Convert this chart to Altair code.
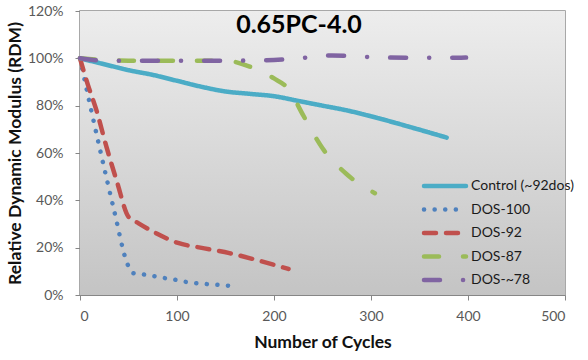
import altair as alt
import pandas as pd

CHART_TITLE = "0.65PC-4.0"
X_TITLE = "Number of Cycles"
Y_TITLE = "Relative Dynamic Modulus (RDM)"

SERIES = ["Control (~92dos)", "DOS-100", "DOS-92", "DOS-87", "DOS-~78"]
COLORS = ["#4BACC6", "#4F81BD", "#C0504D", "#9BBB59", "#8064A2"]
DASHES = [[1, 0], [0.1, 10.5], [12, 10], [15, 24], [16, 23, 0.1, 23]]

X_TICKS = [0, 100, 200, 300, 400, 500]
Y_TICKS = [0, 0.2, 0.4, 0.6, 0.8, 1.0, 1.2]

# cycles / relative dynamic modulus (%) for each mix
control_cycles = [0, 25, 50, 75, 100, 125, 150, 175, 200, 225, 250, 275, 300, 340, 378]
control_rdm = [100, 97.5, 95, 93, 90.5, 88, 86, 85, 84, 82, 80, 78, 75.5, 71, 66.5]

dos100_cycles = [0, 10, 22, 35, 49, 54, 65, 76, 88, 100, 111, 122, 134, 145, 157]
dos100_rdm = [100, 81, 59, 36, 13, 9.3, 8.7, 8.0, 7.1, 6.3, 5.4, 4.9, 4.5, 4.2, 3.8]

dos92_cycles = [0, 8, 17, 27, 38, 50, 60, 79, 101, 124, 154, 182, 215]
dos92_rdm = [100, 89, 78, 63, 48, 33, 30.4, 26, 22, 20, 17.7, 14.8, 11]

dos87_cycles = [0, 50, 100, 150, 175, 200, 215, 230, 250, 275, 304]
dos87_rdm = [100, 99, 99, 99, 96.5, 91.5, 87, 76, 62, 51, 43]

dos78_cycles = [0, 25, 50, 100, 150, 200, 230, 260, 300, 350, 398]
dos78_rdm = [100, 99, 99, 99, 99, 99.3, 100.2, 101.2, 100.5, 100.2, 100.3]

series_points = [
    (SERIES[0], control_cycles, control_rdm),
    (SERIES[1], dos100_cycles, dos100_rdm),
    (SERIES[2], dos92_cycles, dos92_rdm),
    (SERIES[3], dos87_cycles, dos87_rdm),
    (SERIES[4], dos78_cycles, dos78_rdm),
]

rows = []
for name, xs, ys in series_points:
    for i, (cx, cy) in enumerate(zip(xs, ys)):
        rows.append({"series": name, "cycles": cx, "rdm": cy / 100.0, "order": i})
df = pd.DataFrame(rows)

FONT = "Lato"
AXIS_GRAY = "#868686"
LABEL_GRAY = "#595959"
PLOT_W, PLOT_H = 485, 284
LINE_W = 4.5

color_scale = alt.Scale(domain=SERIES, range=COLORS)
dash_scale = alt.Scale(domain=SERIES, range=DASHES)

plot_fill = alt.LinearGradient(
    gradient="linear", x1=0, y1=0, x2=0, y2=1,
    stops=[alt.GradientStop(color="#ededed", offset=0),
           alt.GradientStop(color="#c4c4c4", offset=1)],
)

title_df = pd.DataFrame({"label": [CHART_TITLE]})
legend_df = pd.DataFrame({"series": SERIES})

# shaded plot-area background
backdrop = alt.Chart(title_df).mark_rect(color=plot_fill).encode(
    x=alt.value(0), x2=alt.value(PLOT_W), y=alt.value(0), y2=alt.value(PLOT_H)
)

lines = alt.Chart(df).mark_line(
    strokeWidth=LINE_W, strokeCap="round", strokeJoin="round", interpolate="monotone"
).encode(
    x=alt.X("cycles:Q", scale=alt.Scale(domain=[0, 500], nice=False),
            axis=alt.Axis(values=X_TICKS, title=X_TITLE, grid=False,
                          tickSize=5, labelPadding=9,
                          domainColor=AXIS_GRAY, tickColor=AXIS_GRAY,
                          labelFont=FONT, labelFontSize=14, labelColor=LABEL_GRAY,
                          titleFont=FONT, titleFontSize=17.5, titleFontWeight="bold",
                          titleColor="#111111", titleY=52, titleBaseline="alphabetic")),
    y=alt.Y("rdm:Q", scale=alt.Scale(domain=[0, 1.2], nice=False),
            axis=alt.Axis(values=Y_TICKS, format=".0%", title=Y_TITLE, grid=False,
                          tickSize=5, labelPadding=12,
                          domainColor=AXIS_GRAY, tickColor=AXIS_GRAY,
                          labelFont=FONT, labelFontSize=14, labelColor=LABEL_GRAY,
                          titleFont=FONT, titleFontSize=17.5, titleFontWeight="bold",
                          titleColor="#111111", titleX=-60, titleY=142,
                          titleBaseline="alphabetic")),
    color=alt.Color("series:N", scale=color_scale, legend=None),
    strokeDash=alt.StrokeDash("series:N", scale=dash_scale, legend=None),
    order="order:Q",
)

# key in the lower right of the plot: one sample stroke and label per series
key_rows = alt.Y("series:N", sort=SERIES, axis=None,
                 scale=alt.Scale(type="point", domain=SERIES, range=[175, 269], padding=0))

key_strokes = alt.Chart(legend_df).mark_rule(
    strokeWidth=LINE_W, strokeCap="round"
).encode(
    x=alt.value(344), x2=alt.value(386), y=key_rows,
    color=alt.Color("series:N", scale=color_scale, legend=None),
    strokeDash=alt.StrokeDash("series:N", scale=dash_scale, legend=None),
)

key_labels = alt.Chart(legend_df).mark_text(
    font=FONT, fontSize=14, align="left", baseline="middle", color="#1a1a1a"
).encode(x=alt.value(391), y=key_rows, text="series:N")

heading = alt.Chart(title_df).mark_text(
    font=FONT, fontSize=25, fontWeight="bold", align="center",
    baseline="alphabetic", color="#000000"
).encode(x=alt.value(219), y=alt.value(22), text="label:N")

chart = alt.layer(backdrop, lines, key_strokes, key_labels, heading).resolve_scale(
    y="independent"
).properties(
    width=PLOT_W, height=PLOT_H,
    autosize=alt.AutoSizeParams(type="none"),
    padding={"left": 80, "top": 11, "right": 23, "bottom": 65},
    background="white",
).configure_view(stroke="#8c8c8c", strokeWidth=1.5)

chart.save("out.html", embed_options={"renderer": "svg", "actions": False})
